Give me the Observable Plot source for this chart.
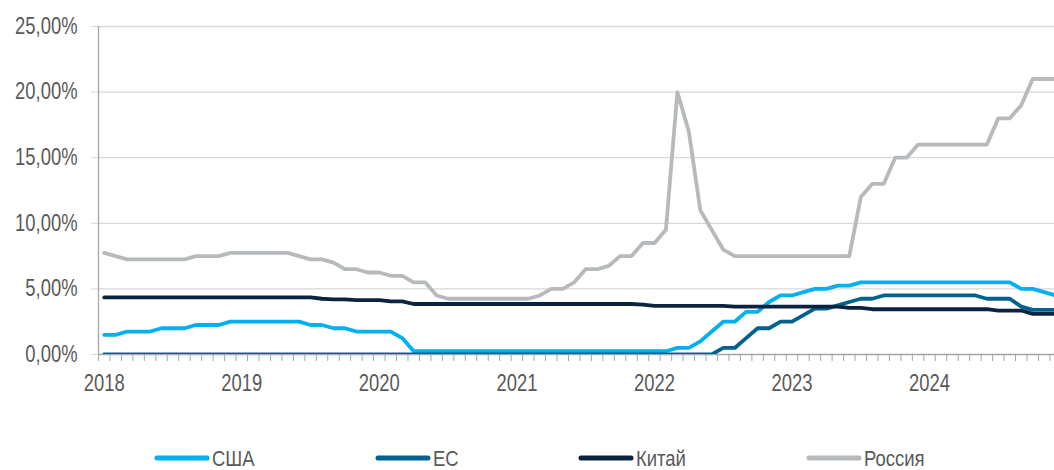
<!DOCTYPE html>
<html><head><meta charset="utf-8">
<script src="https://cdn.jsdelivr.net/npm/d3@7"></script>
<script src="https://cdn.jsdelivr.net/npm/@observablehq/plot@0.6"></script>
<style>
html,body{margin:0;padding:0;background:#fff;overflow:hidden;}
#chart{position:relative;width:1054px;height:470px;}
#legend{position:absolute;left:0;top:410px;display:block;}
</style></head><body><div id="chart"></div>
<script>
const years = ["2018","2019","2020","2021","2022","2023","2024"];
const seriesNames = ["США","ЕС","Китай","Россия"];
const colors = ["#00b0f0","#00628f","#0c2340","#b7babd"];
const yTicks = [0,5,10,15,20,25];

const usa = [
1.5,1.5,1.75,1.75,1.75,2.0,2.0,2.0,2.25,2.25,2.25,2.5,
2.5,2.5,2.5,2.5,2.5,2.5,2.25,2.25,2.0,2.0,1.75,1.75,
1.75,1.75,1.25,0.25,0.25,0.25,0.25,0.25,0.25,0.25,0.25,0.25,
0.25,0.25,0.25,0.25,0.25,0.25,0.25,0.25,0.25,0.25,0.25,0.25,
0.25,0.25,0.5,0.5,1.0,1.75,2.5,2.5,3.25,3.25,4.0,4.5,
4.5,4.75,5.0,5.0,5.25,5.25,5.5,5.5,5.5,5.5,5.5,5.5,
5.5,5.5,5.5,5.5,5.5,5.5,5.5,5.5,5.0,5.0,4.75,4.5];
const eu = [
0,0,0,0,0,0,0,0,0,0,0,0,
0,0,0,0,0,0,0,0,0,0,0,0,
0,0,0,0,0,0,0,0,0,0,0,0,
0,0,0,0,0,0,0,0,0,0,0,0,
0,0,0,0,0,0,0.5,0.5,1.25,2.0,2.0,2.5,
2.5,3.0,3.5,3.5,3.75,4.0,4.25,4.25,4.5,4.5,4.5,4.5,
4.5,4.5,4.5,4.5,4.5,4.25,4.25,4.25,3.65,3.4,3.4,3.4];
const china = [
4.35,4.35,4.35,4.35,4.35,4.35,4.35,4.35,4.35,4.35,4.35,4.35,
4.35,4.35,4.35,4.35,4.35,4.35,4.35,4.25,4.2,4.2,4.15,4.15,
4.15,4.05,4.05,3.85,3.85,3.85,3.85,3.85,3.85,3.85,3.85,3.85,
3.85,3.85,3.85,3.85,3.85,3.85,3.85,3.85,3.85,3.85,3.85,3.8,
3.7,3.7,3.7,3.7,3.7,3.7,3.7,3.65,3.65,3.65,3.65,3.65,
3.65,3.65,3.65,3.65,3.65,3.55,3.55,3.45,3.45,3.45,3.45,3.45,
3.45,3.45,3.45,3.45,3.45,3.45,3.35,3.35,3.35,3.1,3.1,3.1];
const russia = [
7.75,7.5,7.25,7.25,7.25,7.25,7.25,7.25,7.5,7.5,7.5,7.75,
7.75,7.75,7.75,7.75,7.75,7.5,7.25,7.25,7.0,6.5,6.5,6.25,
6.25,6.0,6.0,5.5,5.5,4.5,4.25,4.25,4.25,4.25,4.25,4.25,
4.25,4.25,4.5,5.0,5.0,5.5,6.5,6.5,6.75,7.5,7.5,8.5,
8.5,9.5,20,17,11,9.5,8,7.5,7.5,7.5,7.5,7.5,
7.5,7.5,7.5,7.5,7.5,7.5,12,13,13,15,15,16,
16,16,16,16,16,16,18,18,19,21,21,21];

const seriesValues = [usa, eu, china, russia];
const rows = [];
seriesValues.forEach((vals, s) => vals.forEach((v, i) => rows.push({name: seriesNames[s], i, value: v})));
const nMonths = usa.length;
const boundaries = d3.range(nMonths + 1).map(k => k - 0.5);
const yearTicks = years.map((_, k) => k * 12);
const font = '"Liberation Sans",Arial,sans-serif';

const chart = Plot.plot({
  width: 1054, height: 410,
  marginLeft: 98, marginRight: 0, marginTop: 26, marginBottom: 56,
  style: {fontFamily: font, fontSize: "23px", background: "#fff", overflow: "hidden"},
  x: {domain: [-0.5, 82.9], label: null},
  y: {domain: [0, 25], label: null},
  color: {domain: seriesNames, range: colors},
  marks: [
    Plot.gridY(yTicks.filter(d => d > 0), {stroke: "#d9d9d9", strokeOpacity: 1, strokeWidth: 1.3}),
    Plot.axisY({ticks: yTicks, tickSize: 7, tickPadding: 14, stroke: "#d9d9d9", strokeOpacity: 1,
      fill: "#595959", fontSize: 23, label: null,
      tickFormat: d => d.toFixed(2).replace(".", ",") + "%"}),
    Plot.ruleX([-0.5], {stroke: "#a6a6a6", strokeWidth: 1.3}),
    Plot.ruleY([0], {stroke: "#a6a6a6", strokeWidth: 1.3}),
    Plot.axisX({ticks: boundaries, tickSize: 7, stroke: "#a6a6a6", strokeOpacity: 1, tickFormat: () => "", label: null}),
    Plot.axisX({ticks: yearTicks, tickSize: 0, tickPadding: 20, fill: "#595959", fontSize: 23, label: null,
      tickFormat: i => years[Math.round(i / 12)]}),
    Plot.line(rows, {x: "i", y: "value", z: "name", stroke: "name", strokeWidth: 3.8,
      strokeLinejoin: "round", strokeLinecap: "round", clip: true})
  ]
});
const holder = document.getElementById("chart");
holder.appendChild(chart);

function condense(svg, k) {
  svg.querySelectorAll("text").forEach(t => {
    if (!t.textContent) return;
    const w = t.getComputedTextLength();
    if (w > 0) {
      t.setAttribute("textLength", (w * k).toFixed(2));
      t.setAttribute("lengthAdjust", "spacingAndGlyphs");
    }
  });
}
condense(chart, 0.8);

// legend (below the plot SVG)
const legendLeft = [155, 376, 579, 807];
const lg = d3.select(holder).append("svg").attr("id", "legend")
  .attr("width", 1054).attr("height", 60)
  .style("font-family", font).style("font-size", "22px");
seriesNames.forEach((n, s) => {
  const g = lg.append("g").attr("transform", `translate(${legendLeft[s]},48)`);
  g.append("line").attr("x1", 2).attr("x2", 52).attr("y1", 0).attr("y2", 0)
    .attr("stroke", colors[s]).attr("stroke-width", 5).attr("stroke-linecap", "round");
  g.append("text").attr("x", 57).attr("y", 0).attr("dy", "0.36em")
    .attr("fill", "#595959").text(n);
});
condense(lg.node(), 0.84);
</script></body></html>
